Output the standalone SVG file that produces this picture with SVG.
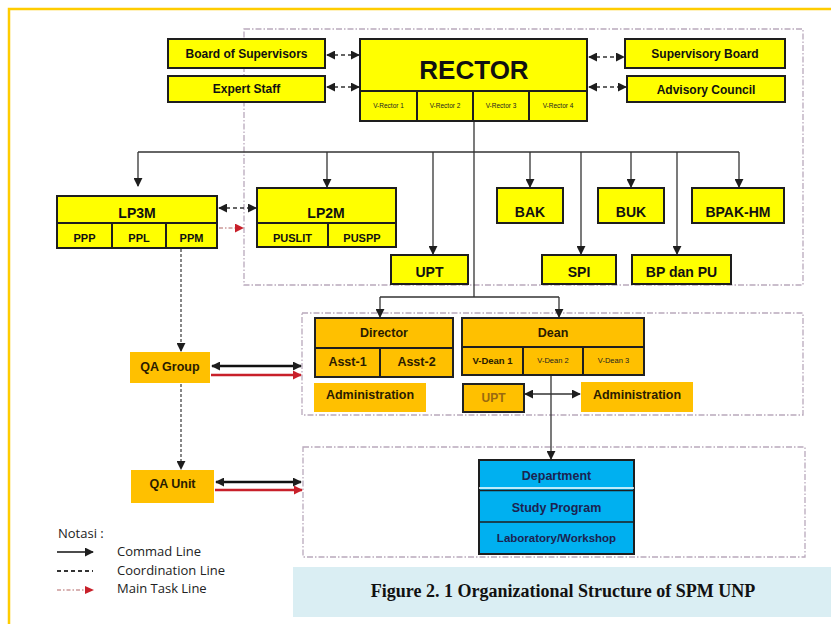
<svg xmlns="http://www.w3.org/2000/svg" width="831" height="624" viewBox="0 0 831 624">
<defs>
<style>
.y{fill:#FFFF00;stroke:#1e1e1e;stroke-width:2}
.o{fill:#FFC000}
.ob{fill:#FFC000;stroke:#222;stroke-width:2}
.b{fill:#00B0F0;stroke:#1e1e1e;stroke-width:2}
.dv{fill:none;stroke:#1e1e1e;stroke-width:2}
.t{font-family:"Liberation Sans",Arial,sans-serif;font-weight:bold;text-anchor:middle;fill:#111}
.f14{font-size:14px}
.f12{font-size:12px}
.f11{font-size:11px}
.to{font-family:"Liberation Sans",Arial,sans-serif;font-weight:bold;text-anchor:middle;fill:#2a1c00;font-size:12.5px}
.tb{font-family:"Liberation Sans",Arial,sans-serif;font-weight:bold;text-anchor:middle;fill:#1c2350}
.sm{font-family:"Liberation Sans",Arial,sans-serif;text-anchor:middle;fill:#222;font-size:6.5px}
.frame{fill:none;stroke:#B9A9BC;stroke-width:1.3;stroke-dasharray:6 2 1.5 2}
.cmd{fill:none;stroke:#333;stroke-width:1.3}
.coord{fill:none;stroke:#333;stroke-width:1.6;stroke-dasharray:4 3}
.qa{fill:none;stroke:#555;stroke-width:1.4;stroke-dasharray:3 2}
.task{fill:none;stroke:#C99;stroke-width:1.4;stroke-dasharray:4 2 1.5 2}
.leg{font-family:"Open Sans","Liberation Sans",sans-serif;font-size:13px;fill:#222}
</style>
<marker id="ah" viewBox="0 0 10 10" refX="9" refY="5" markerWidth="9" markerHeight="9" markerUnits="userSpaceOnUse" orient="auto-start-reverse"><path d="M0,0L10,5L0,10z" fill="#1e1e1e"/></marker>
<marker id="ahr" viewBox="0 0 10 10" refX="9" refY="5" markerWidth="9" markerHeight="9" markerUnits="userSpaceOnUse" orient="auto"><path d="M0,0L10,5L0,10z" fill="#C8202A"/></marker>
</defs>
<rect width="831" height="624" fill="#fff"/>
<path d="M9,624V9H831" fill="none" stroke="#FFCC00" stroke-width="2.5"/>

<g id="frames">
<path class="frame" d="M244,29H803V285H244Z"/>
<path class="frame" d="M302,313H803V415H302Z"/>
<path class="frame" d="M303,447H805V557H303Z"/>
</g>

<g id="connectors">
<path class="cmd" d="M474,121V297"/>
<path class="cmd" d="M138,152H739"/>
<path class="cmd" d="M138,152V186" marker-end="url(#ah)"/>
<path class="cmd" d="M327,152V187" marker-end="url(#ah)"/>
<path class="cmd" d="M433,152V254" marker-end="url(#ah)"/>
<path class="cmd" d="M530,152V187" marker-end="url(#ah)"/>
<path class="cmd" d="M581,152V254" marker-end="url(#ah)"/>
<path class="cmd" d="M631,152V187" marker-end="url(#ah)"/>
<path class="cmd" d="M677,152V254" marker-end="url(#ah)"/>
<path class="cmd" d="M739,152V187" marker-end="url(#ah)"/>
<path class="cmd" d="M380,297H559"/>
<path class="cmd" d="M380,297V317" marker-end="url(#ah)"/>
<path class="cmd" d="M559,297V317" marker-end="url(#ah)"/>
<path class="cmd" d="M551,376V459" marker-end="url(#ah)"/>
<path class="cmd" d="M525,394H580" marker-start="url(#ah)" marker-end="url(#ah)"/>
<path class="coord" d="M327,55H359" marker-start="url(#ah)" marker-end="url(#ah)"/>
<path class="coord" d="M327,87H359" marker-start="url(#ah)" marker-end="url(#ah)"/>
<path class="coord" d="M589,57H624" marker-start="url(#ah)" marker-end="url(#ah)"/>
<path class="coord" d="M589,87H626" marker-start="url(#ah)" marker-end="url(#ah)"/>
<path class="coord" d="M219,208H256" marker-start="url(#ah)" marker-end="url(#ah)"/>
<path class="task" d="M219,228H243" marker-end="url(#ahr)"/>
<path class="qa" d="M181,249V351" marker-end="url(#ah)"/>
<path class="qa" d="M181,384V469" marker-end="url(#ah)"/>
<path d="M212,366H301" stroke="#111" stroke-width="2.6" fill="none" marker-start="url(#ah)" marker-end="url(#ah)"/>
<path d="M211,375H301" stroke="#C8202A" stroke-width="2.6" fill="none" marker-end="url(#ahr)"/>
<path d="M216,482H301" stroke="#111" stroke-width="2.6" fill="none" marker-start="url(#ah)" marker-end="url(#ah)"/>
<path d="M215,490H302" stroke="#C8202A" stroke-width="2.6" fill="none" marker-end="url(#ahr)"/>
</g>

<g id="board-of-supervisors"><rect class="y" x="168" y="39" width="157" height="29"/><text class="t f12" x="246.5" y="58">Board of Supervisors</text></g>
<g id="expert-staff"><rect class="y" x="168" y="76" width="157" height="26"/><text class="t f12" x="246.5" y="93">Expert Staff</text></g>
<g id="rector">
<rect class="y" x="360" y="39" width="227" height="82"/>
<path class="dv" d="M360,91H587M417,91V121M473,91V121M529,91V121"/>
<text class="t" x="474" y="79" style="font-size:26px">RECTOR</text>
<text class="sm" x="388.5" y="108">V-Rector 1</text>
<text class="sm" x="445" y="108">V-Rector 2</text>
<text class="sm" x="501" y="108">V-Rector 3</text>
<text class="sm" x="558" y="108">V-Rector 4</text>
</g>
<g id="supervisory-board"><rect class="y" x="625" y="39" width="160" height="29"/><text class="t f12" x="705" y="58">Supervisory Board</text></g>
<g id="advisory-council"><rect class="y" x="627" y="76" width="158" height="26"/><text class="t f12" x="706" y="94">Advisory Council</text></g>

<g id="lp3m">
<rect class="y" x="57" y="196" width="160" height="52"/>
<path class="dv" d="M57,223H217M112,223V248M166,223V248"/>
<text class="t f14" x="137" y="218">LP3M</text>
<text class="t f11" x="84.5" y="242">PPP</text>
<text class="t f11" x="139" y="242">PPL</text>
<text class="t f11" x="191.5" y="242">PPM</text>
</g>
<g id="lp2m">
<rect class="y" x="257" y="188" width="139" height="59"/>
<path class="dv" d="M257,223H396M328,223V247"/>
<text class="t f14" x="326" y="218">LP2M</text>
<text class="t f11" x="292.5" y="242">PUSLIT</text>
<text class="t f11" x="362" y="242">PUSPP</text>
</g>
<g id="upt-top"><rect class="y" x="391" y="255" width="77" height="29"/><text class="t f14" x="429.5" y="277">UPT</text></g>
<g id="bak"><rect class="y" x="497" y="188" width="66" height="35"/><text class="t f14" x="530" y="217">BAK</text></g>
<g id="buk"><rect class="y" x="598" y="188" width="66" height="35"/><text class="t f14" x="631" y="217">BUK</text></g>
<g id="bpak-hm"><rect class="y" x="692" y="188" width="92" height="35"/><text class="t f14" x="738" y="217">BPAK-HM</text></g>
<g id="spi"><rect class="y" x="542" y="255" width="74" height="29"/><text class="t f14" x="579" y="277">SPI</text></g>
<g id="bp-dan-pu"><rect class="y" x="632" y="255" width="99" height="29"/><text class="t f14" x="681.5" y="277">BP dan PU</text></g>

<g id="director">
<rect class="ob" x="315" y="318" width="138" height="59"/>
<path class="dv" d="M315,348H453M380,348V377"/>
<text class="to" x="384" y="337">Director</text>
<text class="to" x="347.5" y="366">Asst-1</text>
<text class="to" x="416.5" y="366">Asst-2</text>
</g>
<g id="administration-left"><rect class="o" x="314" y="383" width="112" height="29"/><text class="to" x="370" y="399">Administration</text></g>
<g id="dean">
<rect class="ob" x="462" y="318" width="182" height="57"/>
<path class="dv" d="M462,347H644M523,347V375M583,347V375"/>
<text class="to" x="553" y="337">Dean</text>
<text class="to" x="492.5" y="364" style="font-size:9.5px">V-Dean 1</text>
<text class="sm" x="553" y="363" style="font-size:7.5px">V-Dean 2</text>
<text class="sm" x="613.5" y="363" style="font-size:7.5px">V-Dean 3</text>
</g>
<g id="upt-lower"><rect class="ob" x="463" y="384" width="61" height="28"/><text class="to" x="493.5" y="402" style="fill:#9A6A10;font-size:12px">UPT</text></g>
<g id="administration-right"><rect class="o" x="581" y="382" width="112" height="30"/><text class="to" x="637" y="399">Administration</text></g>

<g id="qa-group"><rect class="o" x="130" y="352" width="80" height="31"/><text class="to" x="170" y="371">QA Group</text></g>
<g id="qa-unit"><rect class="o" x="131" y="470" width="83" height="33"/><text class="to" x="172.5" y="488">QA Unit</text></g>

<g id="department-stack">
<rect class="b" x="479" y="460" width="155" height="94"/>
<path d="M479,488H634" stroke="#fff" stroke-width="1.5"/>
<path d="M479,490.5H634M479,522H634" stroke="#1e1e1e" stroke-width="1.6"/>
<text class="tb" x="556.5" y="479.5" style="font-size:12.5px">Department</text>
<text class="tb" x="556.5" y="512" style="font-size:12.5px">Study Program</text>
<text class="tb" x="556.5" y="541.5" style="font-size:11.5px">Laboratory/Workshop</text>
</g>

<g id="legend">
<text class="leg" x="58" y="538">Notasi :</text>
<path d="M57,552H93" stroke="#111" stroke-width="1.6" marker-end="url(#ah)"/>
<text class="leg" x="117" y="556">Commad Line</text>
<path d="M57,571H93" stroke="#333" stroke-width="2.2" stroke-dasharray="4 3"/>
<text class="leg" x="117" y="575">Coordination Line</text>
<path d="M57,590H86" stroke="#C99" stroke-width="1.6" stroke-dasharray="4 2 1.5 2"/>
<path d="M85,586L94,590L85,594Z" fill="#C8202A"/>
<text class="leg" x="117" y="593">Main Task Line</text>
</g>

<g id="caption">
<rect x="293" y="567" width="538" height="50" fill="#DAEEF3"/>
<text x="563" y="597" font-family="'Liberation Serif','Times New Roman',serif" font-weight="bold" font-size="18" text-anchor="middle" fill="#111">Figure 2. 1 Organizational Structure of SPM UNP</text>
</g>
</svg>
